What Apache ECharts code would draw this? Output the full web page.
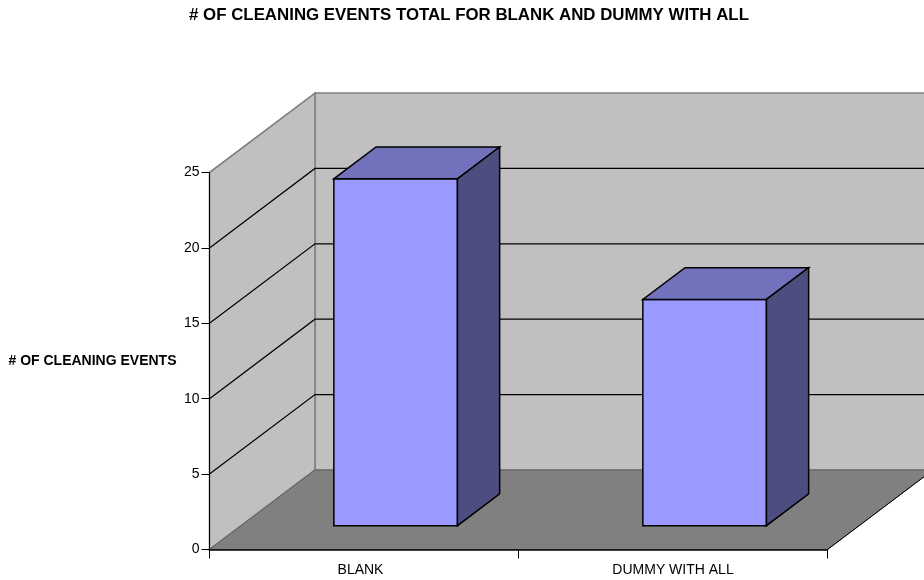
<!DOCTYPE html>
<html>
<head>
<meta charset="utf-8">
<style>html,body{margin:0;padding:0;background:#fff}#chart{width:924px;height:580px}</style>
<script src="https://cdn.jsdelivr.net/npm/echarts@6/dist/echarts.min.js"></script>
</head>
<body>
<div id="chart"></div>
<script>
const chartTitle = '# OF CLEANING EVENTS TOTAL FOR BLANK AND DUMMY WITH ALL';
const valueAxisName = '# OF CLEANING EVENTS';
const categories = ['BLANK', 'DUMMY WITH ALL'];
const cleaningEvents = [23, 15];
const valueTicks = [5, 10, 15, 20];

// Oblique projection: how far the back of the plot box shifts from its front.
const depthX = 105.5;
const depthY = -79.5;
const barWidthShare = 0.4;
const barDepthStart = 0.3;
const barDepthShare = 0.4;
const fontFamily = '"Liberation Sans", Arial, sans-serif';

const edge = { stroke: '#000', lineWidth: 1.5 };
const poly = (points, fill, stroke) => ({
  type: 'polygon',
  shape: { points },
  style: { fill, stroke: stroke.stroke, lineWidth: stroke.lineWidth, lineJoin: 'miter' }
});
const shift = (p, k) => [p[0] + depthX * k, p[1] + depthY * k];

// Back wall, side wall, floor and the gridlines running across them.
function renderBox(params, api) {
  const last = categories.length - 1;
  const o = api.coord([0, 0]);
  const halfBand = api.size([1, 0])[0] / 2;
  const x0 = o[0] - halfBand;
  const x1 = api.coord([last, 0])[0] + halfBand;
  const y0 = o[1];
  const yTop = api.coord([0, 25])[1];
  const wall = { stroke: '#808080', lineWidth: 1.6 };
  const children = [
    poly([shift([x0, yTop], 1), shift([x1, yTop], 1), shift([x1, y0], 1), shift([x0, y0], 1)], '#C0C0C0', wall),
    poly([[x0, yTop], shift([x0, yTop], 1), shift([x0, y0], 1), [x0, y0]], '#C0C0C0', wall),
    poly([[x0, y0], [x1, y0], shift([x1, y0], 1), shift([x0, y0], 1)], '#808080', { stroke: '#606060', lineWidth: 1 }),
    { type: 'line', shape: { x1: x1, y1: y0, x2: x1 + depthX, y2: y0 + depthY }, style: { stroke: '#000', lineWidth: 1 } }
  ];
  valueTicks.forEach(v => {
    const y = api.coord([0, v])[1];
    const a = [x0, y];
    const b = shift(a, 1);
    const c = shift([x1, y], 1);
    children.push({
      type: 'polyline',
      shape: { points: [a, b, c] },
      style: { fill: 'none', stroke: '#000', lineWidth: 1.2 }
    });
  });
  return { type: 'group', children };
}

// One cuboid per category, standing inside the depth of the floor.
function renderBar(params, api) {
  const base = api.coord([api.value(0), 0]);
  const top = api.coord([api.value(0), api.value(1)]);
  const band = api.size([1, 0])[0];
  const w = band * barWidthShare;
  const left = base[0] - w / 2;
  const fl = shift([left, top[1]], barDepthStart);
  const fr = [fl[0] + w, fl[1]];
  const bl = shift([left, base[1]], barDepthStart);
  const br = [bl[0] + w, bl[1]];
  const fd = barDepthShare;
  return {
    type: 'group',
    children: [
      poly([fl, fr, br, bl], '#9999FF', edge),
      poly([fl, fr, shift(fr, fd), shift(fl, fd)], '#7272BC', edge),
      poly([fr, shift(fr, fd), shift(br, fd), br], '#4D4D7F', edge)
    ]
  };
}

const chart = echarts.init(document.getElementById('chart'), null, { renderer: 'canvas' });
chart.setOption({
  animation: false,
  backgroundColor: '#fff',
  textStyle: { fontFamily },
  title: {
    text: chartTitle,
    left: 464,
    top: 2,
    textAlign: 'center',
    textStyle: { fontSize: 16.85, fontWeight: 'bold', color: '#000', fontFamily }
  },
  grid: { left: 209.5, top: 172.5, width: 618, height: 377, containLabel: false },
  xAxis: {
    type: 'category',
    data: categories,
    z: 10,
    boundaryGap: true,
    axisLine: { lineStyle: { color: '#000', width: 1.5 } },
    axisTick: { show: true, alignWithLabel: false, length: 9, lineStyle: { color: '#000' } },
    axisLabel: {
      color: '#000',
      fontSize: 14,
      margin: 14,
      fontFamily,
      formatter: (value, index) => (index === 0 ? `{first|${value}}` : value),
      rich: { first: { fontSize: 14, fontFamily, color: '#000', padding: [0, 7, 0, 0] } }
    },
    splitLine: { show: false }
  },
  yAxis: {
    type: 'value',
    min: 0,
    max: 25,
    interval: 5,
    z: 10,
    name: valueAxisName,
    nameLocation: 'middle',
    nameRotate: 0,
    nameGap: 33,
    nameTextStyle: { color: '#000', fontSize: 14, fontWeight: 'bold', fontFamily, padding: [4, 0, 0, 0] },
    axisLine: { show: true, lineStyle: { color: '#000', width: 1 } },
    axisTick: { show: true, length: 8, lineStyle: { color: '#000' } },
    axisLabel: { color: '#000', fontSize: 14, margin: 10, fontFamily, padding: [4, 0, 0, 0] },
    splitLine: { show: false }
  },
  series: [
    { type: 'custom', z: 1, silent: true, clip: false, renderItem: renderBox, data: [[0, 0]] },
    {
      type: 'custom',
      z: 2,
      clip: false,
      renderItem: renderBar,
      encode: { x: 0, y: 1 },
      data: categories.map((c, i) => [i, cleaningEvents[i]])
    }
  ]
});
</script>
</body>
</html>
